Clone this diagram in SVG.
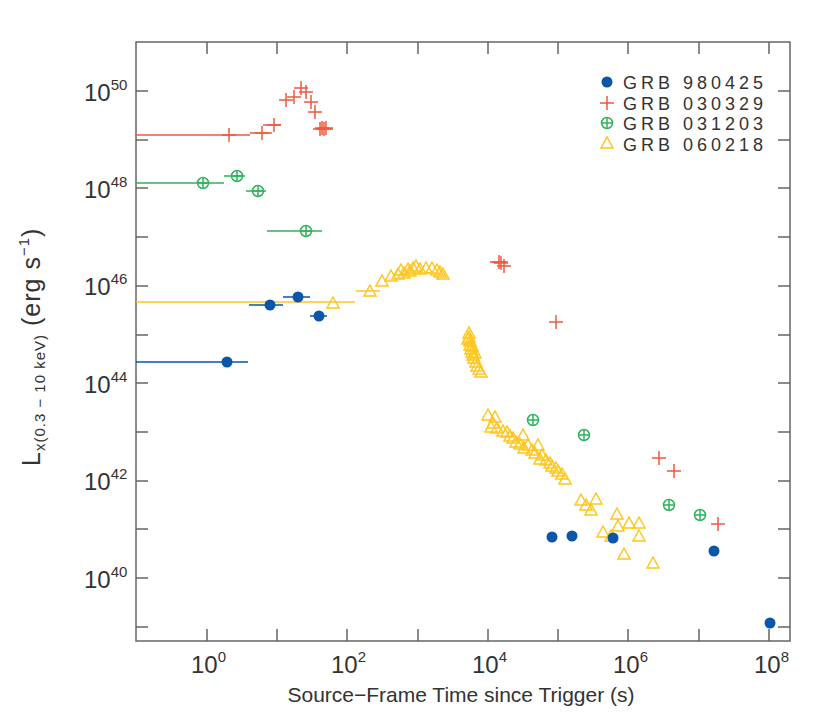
<svg xmlns="http://www.w3.org/2000/svg" xmlns:xlink="http://www.w3.org/1999/xlink" width="830" height="727" viewBox="0 0 830 727">
<style>
text{font-family:"Liberation Sans",Arial,sans-serif;fill:#333}
.ax{stroke:#666;stroke-width:1.5;fill:none}
.r{stroke:#ef5a3d;stroke-width:1.5;fill:none}
.g{stroke:#2db45c;stroke-width:1.5;fill:none}
.b{stroke:#0a56a8;stroke-width:1.5;fill:none}
.y{stroke:#ffc61e;stroke-width:1.5;fill:none}
</style>
<defs>
<path id="cr" d="M-7,0H7M0,-7V7" class="r"/>
<g id="ci" class="g"><circle r="5.5"/><path d="M-5.5,0H5.5M0,-5.5V5.5"/></g>
<circle id="do" r="5.5" fill="#0a56a8"/>
<path id="tr" d="M0,-6L6,5H-6Z" class="y"/>
</defs>
<g id="axes">
<rect x="136" y="42" width="654" height="599" class="ax"/>
<path class="ax" d="M207,641v-12M277,641v-12M347,641v-12M418,641v-12M488,641v-12M558,641v-12M628,641v-12M699,641v-12M769,641v-12M207,42v12M277,42v12M347,42v12M418,42v12M488,42v12M558,42v12M628,42v12M699,42v12M769,42v12M136,627h12M136,578h12M136,529h12M136,481h12M136,432h12M136,383h12M136,335h12M136,286h12M136,237h12M136,188h12M136,140h12M136,91h12M790,627h-12M790,578h-12M790,529h-12M790,481h-12M790,432h-12M790,383h-12M790,335h-12M790,286h-12M790,237h-12M790,188h-12M790,140h-12M790,91h-12"/>
<g font-size="24">
<text x="84" y="101">10<tspan font-size="15" dy="-11">50</tspan></text>
<text x="84" y="198">10<tspan font-size="15" dy="-11">48</tspan></text>
<text x="84" y="295">10<tspan font-size="15" dy="-11">46</tspan></text>
<text x="84" y="393">10<tspan font-size="15" dy="-11">44</tspan></text>
<text x="84" y="490">10<tspan font-size="15" dy="-11">42</tspan></text>
<text x="84" y="588">10<tspan font-size="15" dy="-11">40</tspan></text>
<text x="191" y="673">10<tspan font-size="15" dy="-11">0</tspan></text>
<text x="331" y="673">10<tspan font-size="15" dy="-11">2</tspan></text>
<text x="472" y="673">10<tspan font-size="15" dy="-11">4</tspan></text>
<text x="613" y="673">10<tspan font-size="15" dy="-11">6</tspan></text>
<text x="754" y="673">10<tspan font-size="15" dy="-11">8</tspan></text>
<text x="461" y="702" text-anchor="middle" font-size="21" textLength="347">Source−Frame Time since Trigger (s)</text>
<text transform="translate(40,466) rotate(-90)" font-size="25" letter-spacing="1">L<tspan font-size="15" dy="5">x(0.3 − 10 keV)</tspan><tspan dy="-5"> (erg s</tspan><tspan font-size="15" dy="-11">−1</tspan><tspan dy="11">)</tspan></text>
</g>
</g>
<g id="connectors">
<path class="r" d="M136,135H250M250,133H272M263,125H281M316,129H333M490,262H508"/>
<path class="g" d="M136,183H224M224,176H245M246,191H266M267,231H322"/>
<path class="b" d="M136,362H248M249,305H283M283,297H310M310,316H327"/>
<path class="y" d="M136,302H355M356,291H380"/>
</g>
<g id="grb030329">
<use href="#cr" x="229" y="135"/><use href="#cr" x="262" y="133"/><use href="#cr" x="274" y="125"/>
<use href="#cr" x="286" y="100"/><use href="#cr" x="294" y="97"/><use href="#cr" x="301" y="88"/><use href="#cr" x="306" y="92"/>
<use href="#cr" x="311" y="102"/><use href="#cr" x="315" y="112"/><use href="#cr" x="320" y="129"/><use href="#cr" x="322" y="128"/><use href="#cr" x="324" y="129"/><use href="#cr" x="326" y="128"/>
<use href="#cr" x="499" y="262"/><use href="#cr" x="501" y="263"/><use href="#cr" x="504" y="266"/>
<use href="#cr" x="556" y="322"/><use href="#cr" x="659" y="458"/><use href="#cr" x="674" y="471"/><use href="#cr" x="718" y="524"/>
</g>
<g id="grb031203">
<use href="#ci" x="203" y="183"/><use href="#ci" x="237" y="176"/><use href="#ci" x="258" y="191"/><use href="#ci" x="306" y="231"/>
<use href="#ci" x="533" y="420"/><use href="#ci" x="584" y="435"/><use href="#ci" x="669" y="505"/><use href="#ci" x="700" y="515"/>
</g>
<g id="grb060218">
<use href="#tr" x="333" y="303"/><use href="#tr" x="370" y="291"/><use href="#tr" x="382" y="281"/><use href="#tr" x="391" y="276"/>
<use href="#tr" x="398" y="274"/><use href="#tr" x="401" y="270"/><use href="#tr" x="404" y="273"/><use href="#tr" x="408" y="269"/>
<use href="#tr" x="410" y="271"/><use href="#tr" x="413" y="268"/><use href="#tr" x="416" y="266"/><use href="#tr" x="420" y="269"/>
<use href="#tr" x="426" y="268"/><use href="#tr" x="432" y="268"/><use href="#tr" x="437" y="270"/><use href="#tr" x="440" y="272"/><use href="#tr" x="443" y="274"/>
<use href="#tr" x="469" y="333"/><use href="#tr" x="469" y="337"/><use href="#tr" x="470" y="341"/><use href="#tr" x="470" y="345"/><use href="#tr" x="471" y="349"/>
<use href="#tr" x="472" y="352"/><use href="#tr" x="473" y="355"/><use href="#tr" x="474" y="358"/><use href="#tr" x="476" y="362"/><use href="#tr" x="477" y="366"/>
<use href="#tr" x="479" y="369"/><use href="#tr" x="481" y="372"/><use href="#tr" x="468" y="339"/><use href="#tr" x="472" y="346"/><use href="#tr" x="475" y="353"/>
<use href="#tr" x="488" y="415"/><use href="#tr" x="495" y="417"/><use href="#tr" x="493" y="423"/><use href="#tr" x="491" y="427"/><use href="#tr" x="497" y="428"/>
<use href="#tr" x="503" y="431"/><use href="#tr" x="507" y="432"/><use href="#tr" x="510" y="436"/><use href="#tr" x="513" y="438"/><use href="#tr" x="516" y="442"/>
<use href="#tr" x="523" y="435"/><use href="#tr" x="520" y="444"/><use href="#tr" x="528" y="445"/><use href="#tr" x="524" y="448"/><use href="#tr" x="532" y="450"/>
<use href="#tr" x="538" y="445"/><use href="#tr" x="535" y="453"/><use href="#tr" x="542" y="455"/><use href="#tr" x="540" y="459"/><use href="#tr" x="546" y="460"/>
<use href="#tr" x="550" y="463"/><use href="#tr" x="552" y="466"/><use href="#tr" x="556" y="468"/><use href="#tr" x="558" y="471"/><use href="#tr" x="562" y="474"/><use href="#tr" x="565" y="479"/>
<use href="#tr" x="581" y="500"/><use href="#tr" x="586" y="505"/><use href="#tr" x="596" y="499"/><use href="#tr" x="591" y="510"/>
<use href="#tr" x="617" y="514"/><use href="#tr" x="618" y="526"/><use href="#tr" x="629" y="523"/><use href="#tr" x="639" y="523"/>
<use href="#tr" x="603" y="532"/><use href="#tr" x="611" y="536"/><use href="#tr" x="639" y="536"/><use href="#tr" x="624" y="554"/><use href="#tr" x="653" y="563"/>
</g>
<g id="grb980425">
<use href="#do" x="227" y="362"/><use href="#do" x="270" y="305"/><use href="#do" x="298" y="297"/><use href="#do" x="319" y="316"/>
<use href="#do" x="552" y="537"/><use href="#do" x="572" y="536"/><use href="#do" x="613" y="538"/><use href="#do" x="714" y="551"/><use href="#do" x="770" y="623"/>
</g>
<g id="legend" font-size="18">
<use href="#do" x="607" y="82"/><text x="623" y="89" textLength="140">GRB 980425</text>
<use href="#cr" x="607" y="103"/><text x="623" y="110" textLength="140">GRB 030329</text>
<use href="#ci" x="607" y="123"/><text x="623" y="130" textLength="140">GRB 031203</text>
<g transform="translate(607,143)"><path d="M0,-6L6,5H-6Z" class="y"/></g><text x="623" y="151" textLength="140">GRB 060218</text>
</g>
</svg>
